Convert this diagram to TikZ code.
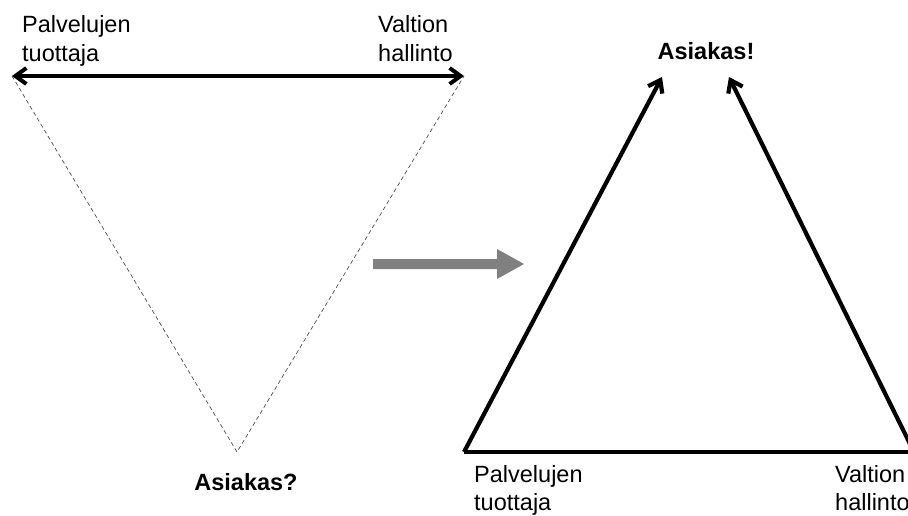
\documentclass[tikz,border=0pt]{standalone}
\usepackage{fontspec}
\setmainfont{Liberation Sans}
\usetikzlibrary{arrows.meta}
\begin{document}
\begin{tikzpicture}[x=1pt,y=-1pt,
  lbl/.style={font=\fontsize{23.5}{28}\selectfont, inner sep=0pt, anchor=base west},
  blbl/.style={font=\fontsize{23.5}{28}\selectfont\bfseries, inner sep=0pt, anchor=base},
  thick arrow/.style={line width=4pt, {Straight Barb[length=11pt,width=16pt,line width=4pt]}-{Straight Barb[length=11pt,width=16pt,line width=4pt]}},
  one arrow/.style={line width=4.2pt, -{Straight Barb[length=11pt,width=16pt,line width=4.2pt]}},
  dashline/.style={gray!60!black, line width=0.7pt, dash pattern=on 4pt off 3pt},
  bigarrow/.style={draw=none, fill=gray}]
\useasboundingbox (0,0) rectangle (908,516);
\clip (0,0) rectangle (908,516);
% left triangle
\coordinate (LA) at (12,76);
\coordinate (LB) at (464,76);
\coordinate (LC) at (237,452);
\draw[dashline] (LA) -- (LC) -- (LB);
\draw[thick arrow] (LA) -- (LB);
\node[lbl] (p1) at (22,33) {Palvelujen};
\node[lbl] (p2) at (22,62) {tuottaja};
\node[lbl] (v1) at (378,33) {Valtion};
\node[lbl] (v2) at (378,62) {hallinto};
\node[blbl] (q) at (246,490) {Asiakas?};
% middle arrow
\fill[gray] (373,259) -- (497,259) -- (497,249) -- (524,264) -- (497,279) -- (497,269) -- (373,269) -- cycle;
% right triangle
\coordinate (RA) at (464,452);
\coordinate (RB) at (914,452);
\coordinate (RT1) at (662,77);
\coordinate (RT2) at (729,77);
\draw[line width=4.2pt] (RA) -- (RB);
\draw[one arrow] (RA) -- (RT1);
\draw[one arrow] (RB) -- (RT2);
\node[blbl] (e) at (706,60) {Asiakas!};
\node[lbl] (rp1) at (474,482) {Palvelujen};
\node[lbl] (rp2) at (474,510) {tuottaja};
\node[lbl] (rv1) at (835,482) {Valtion};
\node[lbl] (rv2) at (835,510) {hallinto};
\end{tikzpicture}
\end{document}
